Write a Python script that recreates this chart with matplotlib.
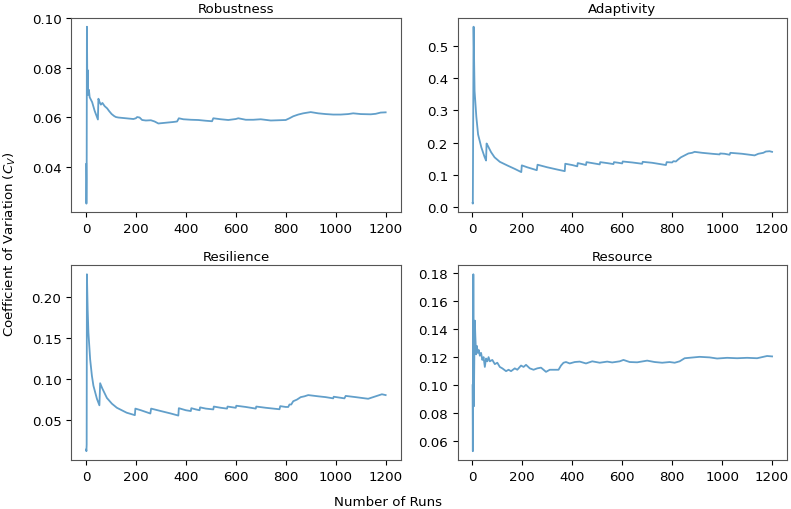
import matplotlib
matplotlib.use("Agg")
import matplotlib.pyplot as plt

titles = ["Robustness", "Adaptivity", "Resilience", "Resource"]

rob_x = [1, 2, 3, 4, 6, 7, 9, 12, 15, 25, 35, 48, 50, 55, 60, 66, 75, 85, 93, 103, 113, 120, 130, 150, 170, 190, 200, 205, 215, 225, 240, 260, 275, 290, 310, 330, 350, 365, 372, 390, 420, 450, 480, 505, 510, 540, 570, 600, 610, 640, 670, 700, 740, 770, 800, 815, 830, 850, 870, 900, 930, 960, 990, 1020, 1050, 1070, 1100, 1140, 1160, 1180, 1200]
rob_y = [0.041, 0.025, 0.035, 0.0965, 0.069, 0.079, 0.069, 0.071, 0.068, 0.066, 0.0625, 0.059, 0.0674, 0.066, 0.065, 0.0657, 0.0644, 0.0635, 0.0624, 0.0612, 0.0604, 0.0600, 0.0598, 0.0596, 0.0594, 0.0592, 0.0595, 0.060, 0.0598, 0.0588, 0.0586, 0.0587, 0.0582, 0.0574, 0.0576, 0.0578, 0.058, 0.0582, 0.0595, 0.0591, 0.0589, 0.0588, 0.0585, 0.0583, 0.0595, 0.0591, 0.0588, 0.0592, 0.0595, 0.0589, 0.0589, 0.0591, 0.0586, 0.0587, 0.0588, 0.0595, 0.0603, 0.061, 0.0615, 0.062, 0.0615, 0.0612, 0.061, 0.061, 0.0612, 0.0615, 0.0612, 0.0611, 0.0613, 0.0618, 0.0619]

ada_x = [1, 2, 5, 9, 16, 23, 36, 49, 55, 57, 62, 75, 89, 110, 142, 170, 196, 198, 220, 258, 261, 300, 340, 370, 372, 400, 420, 422, 440, 455, 457, 480, 510, 512, 540, 565, 567, 585, 600, 602, 640, 680, 682, 720, 775, 778, 800, 805, 815, 822, 835, 850, 865, 880, 890, 920, 960, 990, 992, 1010, 1030, 1033, 1080, 1130, 1145, 1165, 1175, 1190, 1200]
ada_y = [0.012, 0.01, 0.56, 0.36, 0.28, 0.225, 0.185, 0.155, 0.144, 0.197, 0.19, 0.17, 0.154, 0.14, 0.128, 0.118, 0.108, 0.129, 0.123, 0.114, 0.131, 0.123, 0.116, 0.111, 0.134, 0.130, 0.126, 0.136, 0.133, 0.130, 0.139, 0.136, 0.132, 0.139, 0.136, 0.133, 0.139, 0.137, 0.135, 0.141, 0.138, 0.134, 0.140, 0.137, 0.130, 0.139, 0.138, 0.142, 0.141, 0.146, 0.154, 0.160, 0.166, 0.168, 0.171, 0.168, 0.165, 0.163, 0.166, 0.165, 0.162, 0.168, 0.165, 0.160, 0.165, 0.168, 0.172, 0.173, 0.171]

res_x = [1, 2, 3, 4, 7, 10, 17, 24, 30, 44, 54, 57, 65, 84, 104, 124, 163, 196, 198, 220, 258, 261, 300, 340, 370, 372, 400, 420, 422, 440, 455, 457, 480, 510, 512, 540, 565, 567, 600, 602, 640, 680, 682, 720, 775, 778, 800, 810, 815, 822, 830, 845, 860, 875, 890, 930, 960, 990, 992, 1035, 1040, 1080, 1130, 1150, 1170, 1185, 1200]
res_y = [0.014, 0.012, 0.02, 0.228, 0.185, 0.157, 0.124, 0.104, 0.092, 0.076, 0.068, 0.095, 0.089, 0.077, 0.070, 0.065, 0.059, 0.056, 0.064, 0.062, 0.058, 0.064, 0.061, 0.058, 0.0555, 0.0645, 0.062, 0.061, 0.0645, 0.063, 0.062, 0.0655, 0.064, 0.063, 0.0665, 0.065, 0.064, 0.0665, 0.065, 0.0675, 0.066, 0.064, 0.0665, 0.065, 0.0632, 0.067, 0.066, 0.066, 0.069, 0.069, 0.073, 0.075, 0.078, 0.079, 0.0805, 0.079, 0.078, 0.0765, 0.0785, 0.0765, 0.0795, 0.078, 0.076, 0.078, 0.080, 0.0815, 0.0805]

rsc_x = [1, 2, 4, 6, 8, 10, 12, 15, 18, 22, 26, 30, 35, 40, 45, 50, 55, 60, 65, 70, 80, 90, 100, 110, 120, 135, 145, 155, 170, 180, 195, 205, 215, 230, 245, 260, 275, 285, 295, 310, 330, 345, 355, 365, 375, 390, 410, 430, 455, 480, 510, 540, 560, 590, 605, 630, 660, 700, 730, 760, 790, 810, 830, 850, 880, 910, 950, 980, 1020, 1060, 1100, 1140, 1160, 1180, 1200]
rsc_y = [0.10, 0.053, 0.179, 0.085, 0.12, 0.146, 0.135, 0.122, 0.128, 0.123, 0.125, 0.121, 0.123, 0.118, 0.12, 0.113, 0.119, 0.117, 0.12, 0.117, 0.118, 0.115, 0.116, 0.113, 0.112, 0.11, 0.111, 0.110, 0.112, 0.111, 0.114, 0.113, 0.1145, 0.112, 0.111, 0.112, 0.1125, 0.111, 0.1095, 0.111, 0.111, 0.111, 0.114, 0.116, 0.1165, 0.1155, 0.1165, 0.1168, 0.1155, 0.117, 0.116, 0.1168, 0.1162, 0.117, 0.118, 0.1165, 0.1163, 0.1175, 0.1165, 0.116, 0.1165, 0.116, 0.117, 0.1192, 0.1197, 0.1202, 0.1198, 0.119, 0.1195, 0.1192, 0.1195, 0.1192, 0.120, 0.1208, 0.1205]

xticks = [0, 200, 400, 600, 800, 1000, 1200]

series = [(rob_x, rob_y), (ada_x, ada_y), (res_x, res_y), (rsc_x, rsc_y)]

plt.rcParams["font.family"] = ["DejaVu Sans"]
fs = 9.6
fig, axes = plt.subplots(2, 2, figsize=(7.91, 5.10), dpi=100)
fig.subplots_adjust(left=0.09, right=0.995, top=0.963, bottom=0.096, wspace=0.173, hspace=0.272)

for ax, title, (xs, ys) in zip(axes.flat, titles, series):
    ax.plot(xs, ys, color="#1f77b4", alpha=0.7, lw=1.3)
    ax.set_title(title, fontsize=fs, pad=4)
    ax.set_xticks(xticks)
    ax.tick_params(labelsize=fs)
    for s in ax.spines.values():
        s.set_color("#555555")

fig.text(0.49, 0.015, "Number of Runs", ha="center", va="center", fontsize=fs)
fig.text(0.013, 0.52, "Coefficient of Variation ($C_V$)", ha="center", va="center",
         rotation=90, fontsize=fs)

fig.savefig("out.png", dpi=100)
